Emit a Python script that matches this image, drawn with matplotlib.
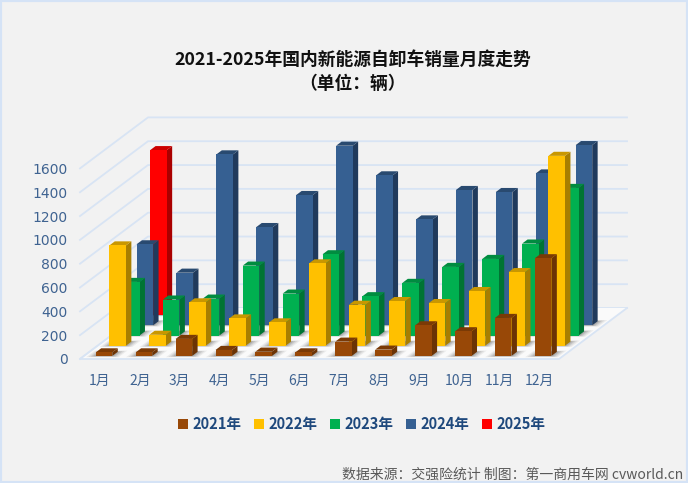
#3D style monthly bar chart, oblique projection drawn on a plain axes
import matplotlib.pyplot as plt
from matplotlib.patches import Polygon, Patch, Rectangle

plt.rcParams['font.family'] = ['Noto Sans CJK SC', 'DejaVu Sans']

months = ['1月', '2月', '3月', '4月', '5月', '6月', '7月', '8月', '9月', '10月', '11月', '12月']
years = ['2021年', '2022年', '2023年', '2024年', '2025年']
y_ticks = [0, 200, 400, 600, 800, 1000, 1200, 1400, 1600]

sales_2021 = [30, 30, 143, 50, 36, 30, 120, 53, 257, 207, 319, 820]
sales_2022 = [842, 92, 364, 229, 196, 691, 344, 375, 358, 459, 618, 1594]
sales_2023 = [450, 302, 310, 587, 352, 682, 330, 442, 576, 643, 772, 1239]
sales_2024 = [680, 442, 1435, 825, 1094, 1508, 1259, 889, 1136, 1119, 1275, 1513]
sales_2025 = [1385]
all_sales = [sales_2021, sales_2022, sales_2023, sales_2024, sales_2025]

# front, side, top
colors = [('#984807', '#6B3305', '#7A3A06'),
          ('#FFC000', '#A87E00', '#C99700'),
          ('#00B050', '#007433', '#008C40'),
          ('#366092', '#203A5C', '#294A70'),
          ('#FF0000', '#AA0000', '#CC0000')]

BG = '#F2F2F2'
GRID = '#D8E4F4'
TXT = '#3F6391'

# front plane of the box in figure pixels
W, H = 688, 483
X0, X1, Y0, Y1 = 80, 559, 359, 168.4
# whole depth of the box, in months and in sales units
DEPTH_X = 68 / (X1 - X0) * 12
DEPTH_Y = 51 / (Y0 - Y1) * 1600
N_DEPTH = 5
BAR_W = 0.415   # months
BAR_D = 0.4     # fraction of one depth cell


def pt(m, d, v):
    # month position, depth position (0-1), value -> axes data coords
    return m + d * DEPTH_X, v + d * DEPTH_Y


fig = plt.figure(figsize=(W / 100, H / 100), dpi=100, facecolor=BG)
ax = fig.add_axes([X0 / W, 1 - Y0 / H, (X1 - X0) / W, (Y0 - Y1) / H])
ax.set_xlim(0, 12)
ax.set_ylim(0, 1600)
ax.patch.set_visible(False)
for s in ax.spines.values():
    s.set_visible(False)

ax.set_xticks([i + 0.5 for i in range(12)])
ax.set_xticklabels(months, fontsize=10, color=TXT)
ax.set_yticks(y_ticks)
ax.set_yticklabels(y_ticks, fontsize=10, color=TXT, family='DejaVu Sans')
ax.tick_params(length=0)
ax.tick_params(axis='x', pad=11)
ax.tick_params(axis='y', pad=9)

# grid on the back and side walls
for v in y_ticks:
    xs, ys = zip(pt(0, 0, v), pt(0, 1, v), pt(12, 1, v))
    ax.plot(xs, ys, color=GRID, lw=1.3, clip_on=False, zorder=1)


def poly(corners, color, z, alpha=1.0):
    ax.add_patch(Polygon(corners, closed=True, facecolor=color, edgecolor='none',
                         alpha=alpha, clip_on=False, zorder=z))


# floor and its front edges
poly([pt(0, 0, 0), pt(12, 0, 0), pt(12, 1, 0), pt(0, 1, 0)], '#FAFAFA', 1)
xs, ys = zip(pt(0, 1, 0), pt(0, 0, 0), pt(12, 0, 0), pt(12, 1, 0))
ax.plot(xs, ys, color=GRID, lw=1.3, clip_on=False, zorder=1)

# soft base shadows, under every bar
for s, vals in enumerate(all_sales):
    d0 = (s + 0.5 - BAR_D / 2) / N_DEPTH
    d1 = (s + 0.5 + BAR_D / 2) / N_DEPTH
    for m, v in enumerate(vals):
        x0 = m + 0.5 - BAR_W / 2
        x1 = x0 + BAR_W
        for grow, a in [(0.2, 0.08), (0.15, 0.1), (0.1, 0.14), (0.05, 0.18)]:
            e0, e1 = d0 - grow * 0.12, d1 + grow * 0.12
            poly([pt(x0 - grow, e0, 0), pt(x1 + grow, e0, 0),
                  pt(x1 + grow, e1, 0), pt(x0 - grow, e1, 0)], '#404040', 2, a)

# back row first so that nearer bars cover it
z = 3
for s in range(N_DEPTH - 1, -1, -1):
    front, side, top = colors[s]
    d0 = (s + 0.5 - BAR_D / 2) / N_DEPTH
    d1 = (s + 0.5 + BAR_D / 2) / N_DEPTH
    vals = all_sales[s]
    for m in range(len(vals) - 1, -1, -1):
        v = vals[m]
        x0 = m + 0.5 - BAR_W / 2
        x1 = x0 + BAR_W
        poly([pt(x1, d0, 0), pt(x1, d1, 0), pt(x1, d1, v), pt(x1, d0, v)], side, z)
        poly([pt(x0, d0, v), pt(x1, d0, v), pt(x1, d1, v), pt(x0, d1, v)], top, z)
        poly([pt(x0, d0, 0), pt(x1, d0, 0), pt(x1, d0, v), pt(x0, d0, v)], front, z)
        z += 1

fig.text(0.513, 1 - 60 / H, '2021-2025年国内新能源自卸车销量月度走势', ha='center', va='center',
         fontsize=12.8, fontweight='bold', color='#111111')
fig.text(0.513, 1 - 84 / H, '（单位：辆）', ha='center', va='center',
         fontsize=12.8, fontweight='bold', color='#111111')

handles = [Patch(facecolor=c[0], edgecolor='none') for c in colors]
leg = fig.legend(handles, years, loc='center', bbox_to_anchor=(362 / W, 1 - 424 / H), ncol=5,
                 frameon=False, handlelength=0.65, handleheight=0.65, handletextpad=0.35,
                 columnspacing=0.85, prop={'size': 10.5, 'weight': 'bold'})
for t in leg.get_texts():
    t.set_color('#1F497D')

fig.text(683 / W, 1 - 475 / H, '数据来源：交强险统计 制图：第一商用车网 cvworld.cn', ha='right', va='center',
         fontsize=10, color='#595959')

fig.add_artist(Rectangle((0, 0), 1, 1, transform=fig.transFigure, fill=False,
                         edgecolor='#D5E3F6', lw=3))

fig.savefig('out.png', dpi=100, facecolor=BG)
